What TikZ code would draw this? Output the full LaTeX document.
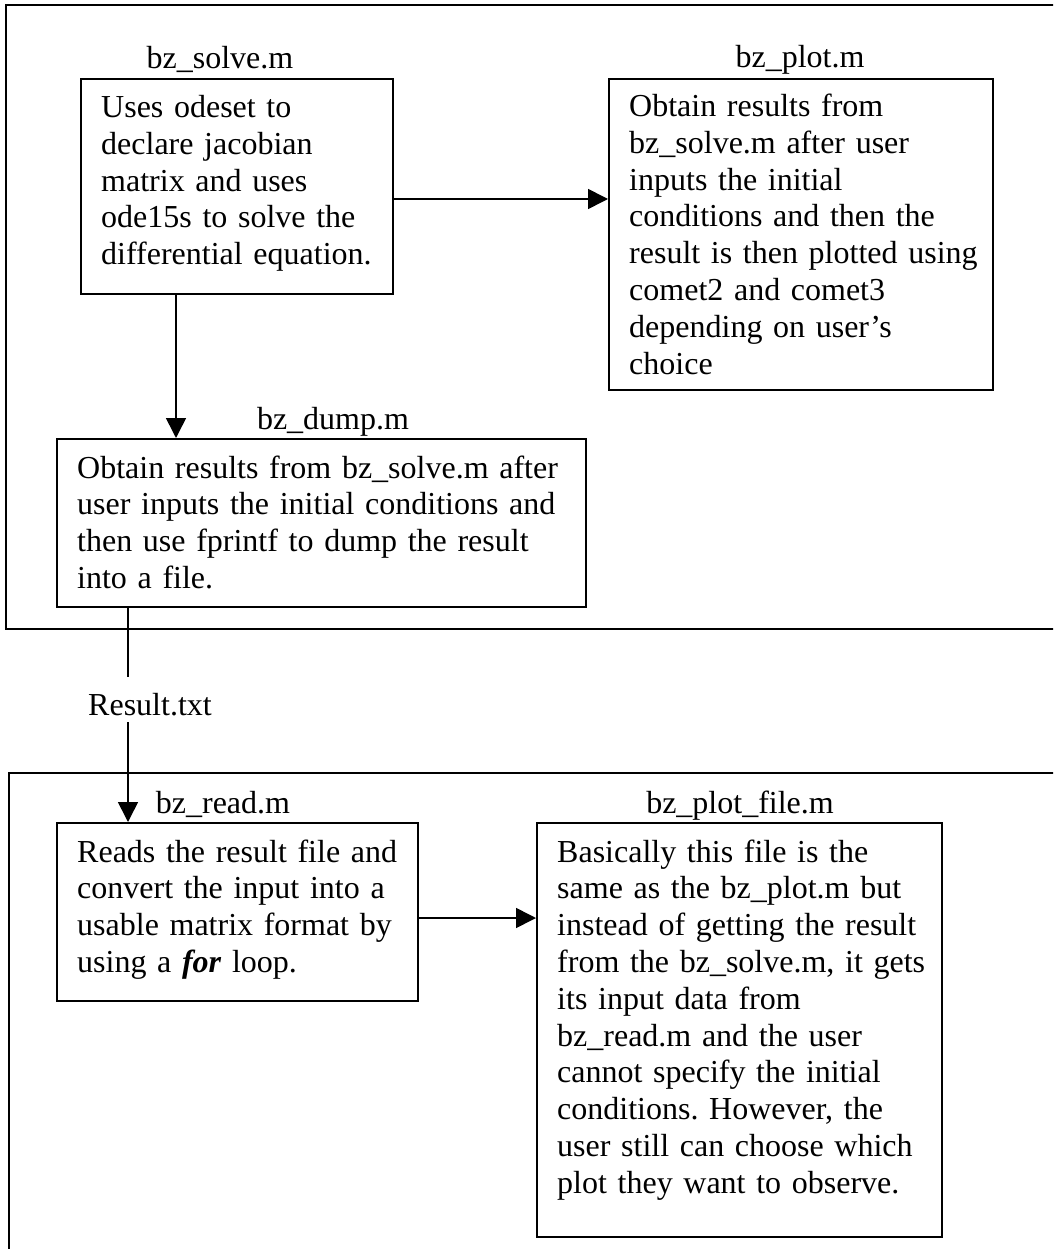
\documentclass[tikz,border=0pt]{standalone}
\usepackage{fontspec}
\setmainfont{Liberation Serif}
\usetikzlibrary{arrows.meta,calc}
\frenchspacing
\begin{document}
\begin{tikzpicture}[x=1pt,y=-1pt,
  boxst/.style={draw, line width=1.6pt, rectangle, inner sep=0pt, anchor=north west},
  txt/.style={anchor=base west, inner sep=0pt, align=left, font=\fontsize{32}{36.8}\selectfont},
  lbl/.style={anchor=base, inner sep=0pt, font=\fontsize{32}{36.8}\selectfont},
  frame/.style={line width=1.6pt},
  conn/.style={line width=1.6pt},
  arr/.style={line width=1.6pt, -{Triangle[length=20pt,width=20pt]}}]
\useasboundingbox (0,0) rectangle (1053,1249);
\clip (0,0) rectangle (1053,1249);
% outer frames
\draw[frame] (1060,5) -- (6,5) -- (6,629) -- (1060,629);
\draw[frame] (1060,773) -- (9,773) -- (9,1260);
% boxes
\node[boxst, minimum width=312pt, minimum height=215pt] (solve) at (80,78) {};
\node[boxst, minimum width=384pt, minimum height=311pt] (plot) at (608,78) {};
\node[boxst, minimum width=529pt, minimum height=168pt] (dump) at (56,438) {};
\node[boxst, minimum width=361pt, minimum height=178pt] (read) at (56,822) {};
\node[boxst, minimum width=405pt, minimum height=414pt] (pfile) at (536,822) {};
% texts
\node[txt, text width=291pt] (solvetxt) at ([shift={(21pt,-39.5pt)}]solve.north west)
  {Uses odeset to\\declare jacobian\\matrix and uses\\ode15s to solve the\\differential equation.};
\node[txt, text width=363pt] (plottxt) at ([shift={(21pt,-38.5pt)}]plot.north west)
  {Obtain results from\\bz\_solve.m after user\\inputs the initial\\conditions and then the\\result is then plotted using\\comet2 and comet3\\depending on user’s\\choice};
\node[txt, text width=508pt] (dumptxt) at ([shift={(21pt,-40pt)}]dump.north west)
  {Obtain results from bz\_solve.m after\\user inputs the initial conditions and\\then use fprintf to dump the result\\into a file.};
\node[txt, text width=340pt] (readtxt) at ([shift={(21pt,-40pt)}]read.north west)
  {Reads the result file and\\convert the input into a\\usable matrix format by\\using a \textbf{\textit{for}} loop.};
\node[txt, text width=384pt] (pfiletxt) at ([shift={(21pt,-40pt)}]pfile.north west)
  {Basically this file is the\\same as the bz\_plot.m but\\instead of getting the result\\from the bz\_solve.m, it gets\\its input data from\\bz\_read.m and the user\\cannot specify the initial\\conditions. However, the\\user still can choose which\\plot they want to observe.};
% labels
\node[lbl] (solvelbl) at (220,69) {bz\_solve.m};
\node[lbl] (plotlbl) at (800,68) {bz\_plot.m};
\node[lbl] (dumplbl) at (333,429) {bz\_dump.m};
\node[lbl] (resultlbl) at (150,715) {Result.txt};
\node[lbl] (readlbl) at (223,813) {bz\_read.m};
\node[lbl] (pfilelbl) at (740,813) {bz\_plot\_file.m};
% connector coordinates
\coordinate (y1) at (0,199);
\coordinate (x2) at (176,0);
\coordinate (r1) at (128,677);
\coordinate (r2) at (128,722);
\coordinate (y4) at (0,918);
% connectors
\draw[arr] (solve.east |- y1) -- (plot.west |- y1);
\draw[arr] (solve.south -| x2) -- (dump.north -| x2);
\draw[conn] (dump.south -| r1) -- (r1);
\draw[arr] (r2) -- (read.north -| r2);
\draw[arr] (read.east |- y4) -- (pfile.west |- y4);
\end{tikzpicture}
\end{document}
